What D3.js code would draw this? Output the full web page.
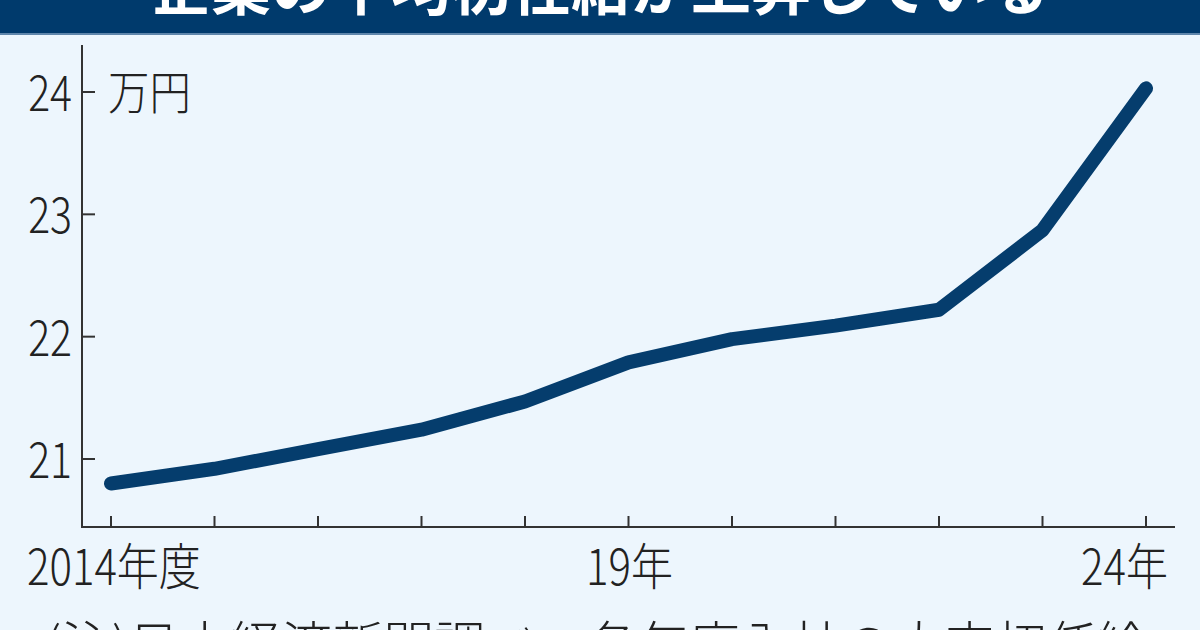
<!DOCTYPE html>
<html><head><meta charset="utf-8">
<script src="https://cdn.jsdelivr.net/npm/d3@7/dist/d3.min.js"></script>
<style>
html,body{margin:0;padding:0;background:#edf6fd;}
svg{display:block;}
text{font-family:"Noto Sans CJK JP","Noto Sans",sans-serif;}
</style></head>
<body><svg id="c" width="1200" height="630"></svg>
<script>
const title = "企業の平均初任給が上昇している";
const unitLabel = "万円";
const note = "(注)日本経済新聞調べ。各年度入社の大卒初任給";
const years = [2014, 2015, 2016, 2017, 2018, 2019, 2020, 2021, 2022, 2023, 2024];
const salary = [20.80, 20.92, 21.08, 21.24, 21.47, 21.79, 21.98, 22.09, 22.22, 22.87, 24.03];
const yTicks = [21, 22, 23, 24];
const xLabels = [[2014, "2014年度"], [2019, "19年"], [2024, "24年"]];

const svg = d3.select("#c");
svg.append("rect").attr("width", 1200).attr("height", 630).attr("fill", "#edf6fd");

// title band
svg.append("rect").attr("x", 0).attr("y", 0).attr("width", 1200).attr("height", 33).attr("fill", "#003a6c");
svg.append("rect").attr("x", 0).attr("y", 33).attr("width", 1200).attr("height", 2).attr("fill", "#5f86ab");
svg.append("text").attr("x", 600).attr("y", 10).attr("text-anchor", "middle")
  .attr("fill", "#fff").attr("font-size", 60).attr("font-weight", 700).text(title);

const x = d3.scaleLinear().domain([2014, 2024]).range([111, 1146]);
const y = d3.scaleLinear().domain([21, 24]).range([459, 92]);

const axisColor = "#333";
svg.append("line").attr("x1", 82).attr("x2", 82).attr("y1", 45).attr("y2", 528)
  .attr("stroke", axisColor).attr("stroke-width", 2);
svg.append("line").attr("x1", 81).attr("x2", 1175).attr("y1", 527).attr("y2", 527)
  .attr("stroke", axisColor).attr("stroke-width", 2);

const yt = svg.append("g");
yTicks.forEach(v => {
  yt.append("line").attr("x1", 82).attr("x2", 95).attr("y1", y(v)).attr("y2", y(v))
    .attr("stroke", axisColor).attr("stroke-width", 2);
  yt.append("text").attr("transform", `translate(72,${y(v) + 19}) scale(0.82,1)`)
    .attr("text-anchor", "end").attr("font-size", 50).attr("font-weight", 300)
    .attr("fill", "#222").text(v);
});
svg.append("text").attr("transform", `translate(108,${y(24) + 17}) scale(0.9,1)`)
  .attr("font-size", 46).attr("font-weight", 300).attr("fill", "#222").text(unitLabel);

years.forEach(yr => {
  svg.append("line").attr("x1", x(yr)).attr("x2", x(yr)).attr("y1", 527).attr("y2", 516)
    .attr("stroke", axisColor).attr("stroke-width", 2);
});
xLabels.forEach(([yr, lab], i) => {
  const anchor = i === 0 ? "start" : (i === xLabels.length - 1 ? "end" : "middle");
  let tx = i === 0 ? 27 : (i === xLabels.length - 1 ? 1168 : x(yr) + 1);
  svg.append("text").attr("transform", `translate(${tx},585) scale(0.84,1)`)
    .attr("text-anchor", anchor).attr("font-size", 50).attr("font-weight", 300)
    .attr("fill", "#222").text(lab);
});

const line = d3.line().x((d, i) => x(years[i])).y(d => y(d));
svg.append("path").datum(salary).attr("d", line)
  .attr("fill", "none").attr("stroke", "#053d6d").attr("stroke-width", 14)
  .attr("stroke-linecap", "round").attr("stroke-linejoin", "round");

svg.append("text").attr("x", 45).attr("y", 664).attr("font-size", 51).attr("font-weight", 300)
  .attr("fill", "#222").text(note);
</script></body></html>
